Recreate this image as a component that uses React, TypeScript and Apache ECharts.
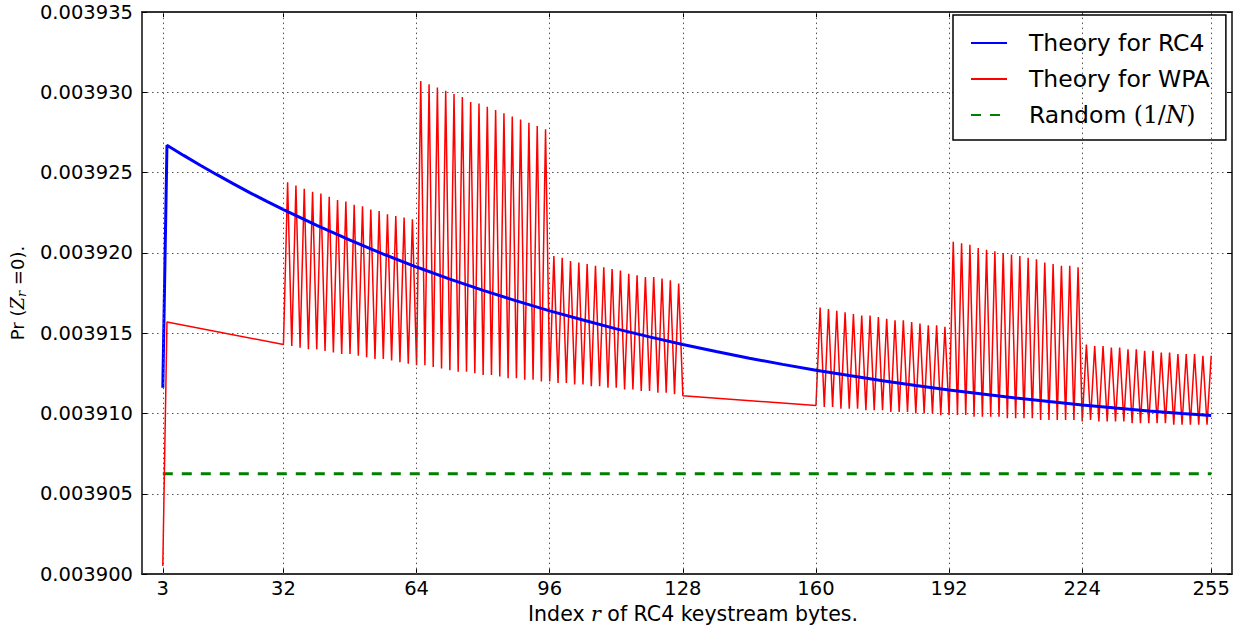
import React, { useEffect, useRef } from "react";
import * as echarts from "echarts";

// ---------- data ----------
const xTicks = [3, 32, 64, 96, 128, 160, 192, 224, 255];

// Theory for RC4 (smooth curve, read at sample indices)
const rc4X = [3, 4, 8, 12, 16, 20, 24, 28, 32, 40, 48, 56, 64, 72, 80, 88, 96, 104, 112, 120, 128, 136, 144, 152, 160, 168, 176, 184, 192, 200, 208, 216, 224, 232, 240, 248, 255];
const rc4Y = [
  0.0039116, 0.0039267, 0.00392607, 0.00392546, 0.00392487, 0.0039243, 0.00392374, 0.00392321,
  0.00392269, 0.00392171, 0.00392079, 0.00391993, 0.00391912, 0.00391837, 0.00391767, 0.00391701,
  0.00391639, 0.00391582, 0.00391527, 0.00391477, 0.0039143, 0.00391386, 0.00391344, 0.00391306,
  0.00391269, 0.00391236, 0.00391204, 0.00391174, 0.00391147, 0.00391121, 0.00391097, 0.00391074,
  0.00391053, 0.00391034, 0.00391016, 0.00391, 0.00390988,
];

// Theory for WPA
const wpaHeadX = [3, 4, 32];
const wpaHeadY = [0.0039005, 0.0039157, 0.0039143];
const wpaGapX = [160];
const wpaGapY = [0.0039105];
const wpaBlockStarts = [33, 65, 97, 161, 193, 225];

const wpaPeaks1 = [0.0039244, 0.0039242, 0.003924, 0.0039238, 0.0039237, 0.0039235, 0.0039233, 0.0039232, 0.003923, 0.0039229, 0.0039227, 0.0039226, 0.0039224, 0.0039223, 0.0039222, 0.0039221];
const wpaLows1 = [0.0039142, 0.0039141, 0.003914, 0.003914, 0.0039139, 0.0039138, 0.0039137, 0.0039137, 0.0039136, 0.0039135, 0.0039134, 0.0039134, 0.0039133, 0.0039132, 0.0039131, 0.003913];
const wpaPeaks2 = [0.0039307, 0.0039305, 0.0039303, 0.0039301, 0.0039299, 0.0039297, 0.0039294, 0.0039293, 0.0039291, 0.0039289, 0.0039287, 0.0039285, 0.0039283, 0.0039281, 0.0039279, 0.0039277];
const wpaLows2 = [0.003913, 0.0039129, 0.0039128, 0.0039127, 0.0039126, 0.0039126, 0.0039125, 0.0039124, 0.0039124, 0.0039123, 0.0039122, 0.0039122, 0.0039121, 0.0039121, 0.003912, 0.003912];
const wpaPeaks3 = [0.0039198, 0.0039197, 0.0039195, 0.0039194, 0.0039193, 0.0039192, 0.0039191, 0.003919, 0.0039189, 0.0039187, 0.0039186, 0.0039185, 0.0039185, 0.0039184, 0.0039183, 0.0039181];
const wpaLows3 = [0.0039119, 0.0039119, 0.0039118, 0.0039118, 0.0039117, 0.0039117, 0.0039116, 0.0039116, 0.0039115, 0.0039115, 0.0039114, 0.0039114, 0.0039113, 0.0039113, 0.0039112, 0.0039111];
const wpaPeaks4 = [0.0039166, 0.0039165, 0.0039164, 0.0039163, 0.0039162, 0.0039161, 0.0039161, 0.003916, 0.0039159, 0.0039158, 0.0039158, 0.0039157, 0.0039156, 0.0039155, 0.0039155, 0.0039154];
const wpaLows4 = [0.0039104, 0.0039104, 0.0039103, 0.0039103, 0.0039103, 0.0039102, 0.0039102, 0.0039102, 0.0039101, 0.0039101, 0.0039101, 0.00391, 0.00391, 0.00391, 0.0039099, 0.0039099];
const wpaPeaks5 = [0.0039207, 0.0039206, 0.0039205, 0.0039203, 0.0039202, 0.0039201, 0.00392, 0.0039199, 0.0039198, 0.0039197, 0.0039196, 0.0039194, 0.0039193, 0.0039192, 0.0039192, 0.0039191];
const wpaLows5 = [0.0039099, 0.0039099, 0.0039098, 0.0039098, 0.0039098, 0.0039098, 0.0039097, 0.0039097, 0.0039097, 0.0039097, 0.0039096, 0.0039096, 0.0039096, 0.0039096, 0.0039096, 0.0039095];
const wpaPeaks6 = [0.0039143, 0.0039142, 0.0039142, 0.0039141, 0.0039141, 0.003914, 0.003914, 0.0039139, 0.0039139, 0.0039138, 0.0039138, 0.0039137, 0.0039137, 0.0039137, 0.0039136, 0.0039136];
const wpaLows6 = [0.0039096, 0.0039095, 0.0039095, 0.0039095, 0.0039095, 0.0039094, 0.0039094, 0.0039094, 0.0039094, 0.0039094, 0.0039093, 0.0039093, 0.0039093, 0.0039093, 0.0039093];

// Random (1/N)
const randomX = [3, 255];
const randomY = [0.00390625, 0.00390625];

const seriesNames = ["Theory for RC4", "Theory for WPA", "Random (1/N)"];

// ---------- build ----------
function pairs(xs: number[], ys: number[]) {
  return xs.map((x, i) => [x, ys[i]]);
}

function buildWpa() {
  const peaks = [wpaPeaks1, wpaPeaks2, wpaPeaks3, wpaPeaks4, wpaPeaks5, wpaPeaks6];
  const lows = [wpaLows1, wpaLows2, wpaLows3, wpaLows4, wpaLows5, wpaLows6];
  const out: number[][] = pairs(wpaHeadX, wpaHeadY);
  peaks.forEach((pk, b) => {
    if (b === 3) out.push(...pairs(wpaGapX, wpaGapY));
    const s = wpaBlockStarts[b];
    pk.forEach((v, k) => {
      out.push([s + 2 * k, v]);
      if (k < lows[b].length) out.push([s + 2 * k + 1, lows[b][k]]);
    });
  });
  return out;
}

const FONT = "DejaVu Sans";
const SERIF = "DejaVu Serif";
const LEG = 23.5;

export default function App() {
  const ref = useRef<HTMLDivElement>(null);
  useEffect(() => {
    if (!ref.current) return;
    const chart = echarts.init(ref.current, null, { renderer: "svg" });
    const gridDots = { color: "#555", width: 1, type: [1.5, 3.5] as any };
    const frame = { color: "#333", width: 1.8 };
    const xCommon = {
      type: "value" as const,
      min: -2,
      max: 260,
      splitLine: { show: false },
      axisLine: { show: true, onZero: false, lineStyle: frame },
      axisTick: { show: true, inside: true, length: 5, customValues: xTicks, lineStyle: { color: "#000", width: 1 } },
    };
    const yCommon = {
      type: "value" as const,
      min: 0.0039,
      max: 0.003935,
      interval: 0.000005,
      axisLine: { show: true, onZero: false, lineStyle: frame },
      axisTick: { show: true, inside: true, length: 5, lineStyle: { color: "#000", width: 1 } },
    };
    chart.setOption({
      animation: false,
      backgroundColor: "#fff",
      textStyle: { fontFamily: FONT },
      grid: { left: 139, right: 4, top: 12, bottom: 52, containLabel: false },
      xAxis: [
        {
          ...xCommon,
          position: "bottom",
          name: "Index {i|r} of RC4 keystream bytes.",
          nameLocation: "middle",
          nameGap: 25,
          nameTextStyle: {
            fontFamily: FONT,
            fontSize: 20.5,
            color: "#000",
            padding: [0, 0, 0, 12],
            rich: { i: { fontFamily: SERIF, fontStyle: "italic", fontSize: 20.5, color: "#000" } },
          },
          axisLabel: { show: true, customValues: xTicks, fontSize: 19.5, color: "#000", fontFamily: FONT, margin: 4 },
        },
        { ...xCommon, position: "top", axisLabel: { show: false } },
      ],
      yAxis: [
        {
          ...yCommon,
          position: "left",
          splitLine: { show: true, lineStyle: gridDots },
          axisLabel: { show: true, fontSize: 19.5, color: "#000", fontFamily: FONT, margin: 9, formatter: (v: number) => v.toFixed(6) },
          name: "{a|Pr (}{m|Z}{s|r}{a| =0).}",
          nameLocation: "middle",
          nameGap: 114,
          nameRotate: 90,
          nameTextStyle: {
            color: "#000",
            rich: {
              a: { fontFamily: FONT, fontSize: 18, color: "#000", lineHeight: 22 },
              m: { fontFamily: SERIF, fontStyle: "italic", fontSize: 18, color: "#000", lineHeight: 22 },
              s: { fontFamily: SERIF, fontStyle: "italic", fontSize: 13, color: "#000", lineHeight: 22, verticalAlign: "bottom" },
            },
          },
        },
        { ...yCommon, position: "right", splitLine: { show: false }, axisLabel: { show: false } },
      ],
      legend: {
        data: seriesNames,
        orient: "vertical",
        left: 953,
        top: 15,
        padding: [14, 16, 11, 17],
        itemGap: 8,
        itemWidth: 36,
        itemHeight: 14,
        backgroundColor: "#fff",
        borderColor: "#000",
        borderWidth: 1.5,
        borderRadius: 0,
        itemStyle: { opacity: 0 },
        textStyle: {
          fontFamily: FONT,
          fontSize: LEG,
          color: "#000",
          padding: [0, 0, 0, 17],
          lineHeight: 28,
          rich: {
            t: { fontFamily: FONT, fontSize: LEG, color: "#000", lineHeight: 28 },
            m: { fontFamily: SERIF, fontSize: LEG, color: "#000", lineHeight: 28 },
            i: { fontFamily: SERIF, fontStyle: "italic", fontSize: LEG, color: "#000", lineHeight: 28 },
          },
        },
        formatter: (name: string) =>
          name === "Random (1/N)" ? "{t|Random }{m|(1/}{i|N}{m|)}" : "{t|" + name + "}",
      },
      series: [
        {
          name: "",
          type: "line",
          data: [],
          z: 1,
          silent: true,
          markLine: {
            silent: true,
            symbol: ["none", "none"],
            label: { show: false },
            lineStyle: gridDots,
            data: xTicks.map((v) => ({ xAxis: v })),
          },
        },
        {
          name: seriesNames[2],
          type: "line",
          data: pairs(randomX, randomY),
          showSymbol: false,
          symbol: "none",
          z: 2,
          lineStyle: { color: "#008000", width: 3, type: [10, 9] },
          itemStyle: { color: "#008000" },
        },
        {
          name: seriesNames[1],
          type: "line",
          data: buildWpa(),
          showSymbol: false,
          symbol: "none",
          z: 3,
          lineStyle: { color: "#ff0000", width: 1.5 },
          itemStyle: { color: "#ff0000" },
        },
        {
          name: seriesNames[0],
          type: "line",
          data: pairs(rc4X, rc4Y),
          showSymbol: false,
          symbol: "none",
          z: 4,
          lineStyle: { color: "#0000ff", width: 3 },
          itemStyle: { color: "#0000ff" },
        },
      ],
    });
    return () => chart.dispose();
  }, []);
  return <div ref={ref} style={{ position: "absolute", left: 0, top: 0, width: 1236, height: 629 }} />;
}
